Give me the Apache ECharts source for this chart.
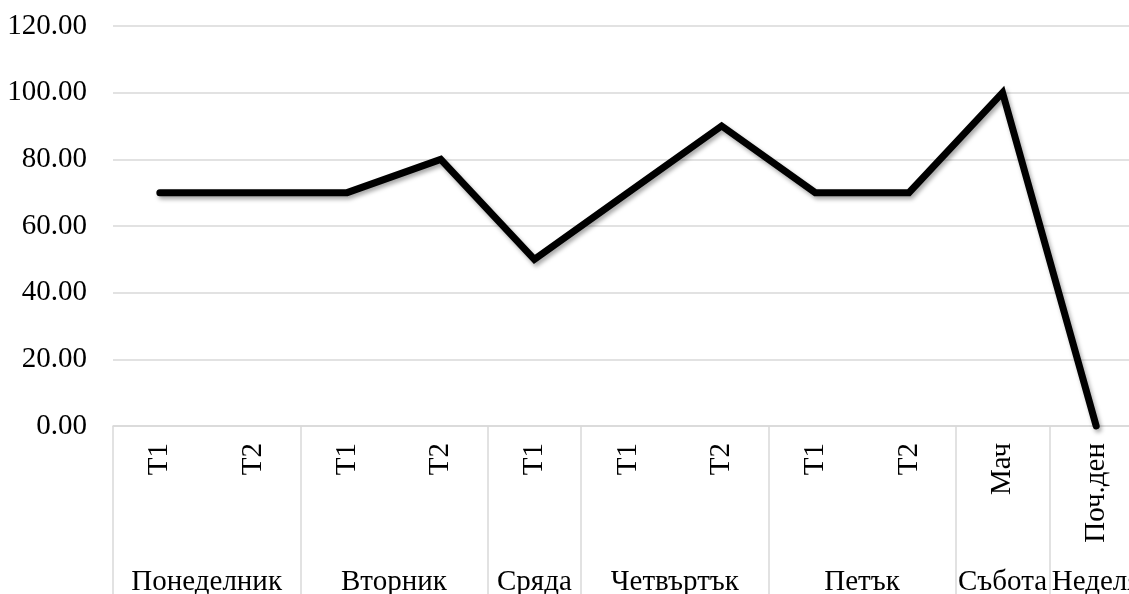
<!DOCTYPE html>
<html>
<head>
<meta charset="utf-8">
<script src="https://cdn.jsdelivr.net/npm/echarts@6/dist/echarts.min.js"></script>
<style>
  html, body { margin: 0; padding: 0; background: #fff; }
  #chart { width: 1129px; height: 594px; }
</style>
</head>
<body>
<div id="chart"></div>
<script>
// Training load per session over the week
const groupNames = ['Понеделник', 'Вторник', 'Сряда', 'Четвъртък', 'Петък', 'Събота', 'Неделя'];
const groupSizes = [2, 2, 1, 2, 2, 1, 1];
const sessionLabels = ['T1', 'T2', 'T1', 'T2', 'T1', 'T1', 'T2', 'T1', 'T2', 'Мач', 'Поч.ден'];
const loadValues = [70, 70, 70, 80, 50, 70, 90, 70, 70, 100, 0];
const yTicks = { min: 0, max: 120, interval: 20 };

const FONT = "'Liberation Serif', 'Times New Roman', serif";
const FONT_SIZE = 29;
const GRID_COLOR = '#d9d9d9';

// Group axis: half-category steps so group centres and borders land on points
const halfSteps = sessionLabels.length * 2;
const groupAxisData = new Array(halfSteps + 1).fill('');
const borderSteps = new Set([0]);
let acc = 0;
groupNames.forEach((name, i) => {
  const start = acc;
  acc += groupSizes[i];
  groupAxisData[start + acc] = name;          // centre = (start+end)/2 in half steps
  borderSteps.add(acc * 2);
});

const chart = echarts.init(document.getElementById('chart'), null, { renderer: 'canvas' });
chart.setOption({
  animation: false,
  backgroundColor: '#fff',
  grid: {
    left: 113, width: 1030, top: 26, bottom: 168,
    containLabel: false, outerBoundsMode: 'none'
  },
  xAxis: [
    {
      type: 'category',
      data: sessionLabels,
      boundaryGap: true,
      axisLine: { show: true, lineStyle: { color: GRID_COLOR, width: 1.5 } },
      axisTick: { show: false },
      axisLabel: {
        rotate: 90, interval: 0, margin: 17,
        color: '#000', fontFamily: FONT, fontSize: FONT_SIZE
      },
      splitLine: { show: false }
    },
    {
      type: 'category',
      data: groupAxisData,
      boundaryGap: false,
      position: 'bottom',
      axisLine: { show: false },
      axisTick: {
        show: true, length: 170,
        interval: (idx) => borderSteps.has(idx),
        lineStyle: { color: GRID_COLOR, width: 1.5 }
      },
      axisLabel: {
        interval: 0, margin: 142, showMinLabel: true, showMaxLabel: true,
        hideOverlap: false,
        color: '#000', fontFamily: FONT, fontSize: FONT_SIZE
      },
      splitLine: { show: false }
    }
  ],
  yAxis: {
    type: 'value',
    min: yTicks.min, max: yTicks.max, interval: yTicks.interval,
    axisLine: { show: false },
    axisTick: { show: false },
    axisLabel: {
      margin: 26, color: '#000', fontFamily: FONT, fontSize: FONT_SIZE,
      formatter: (v) => v.toFixed(2)
    },
    splitLine: { show: true, lineStyle: { color: GRID_COLOR, width: 1.5 } }
  },
  series: [{
    type: 'line',
    xAxisIndex: 0,
    data: loadValues,
    symbol: 'none',
    clip: false,
    lineStyle: {
      color: '#000', width: 7, join: 'miter', cap: 'round',
      shadowColor: 'rgba(0,0,0,0.35)', shadowBlur: 4, shadowOffsetX: 2, shadowOffsetY: 3
    }
  }]
});
</script>
</body>
</html>
